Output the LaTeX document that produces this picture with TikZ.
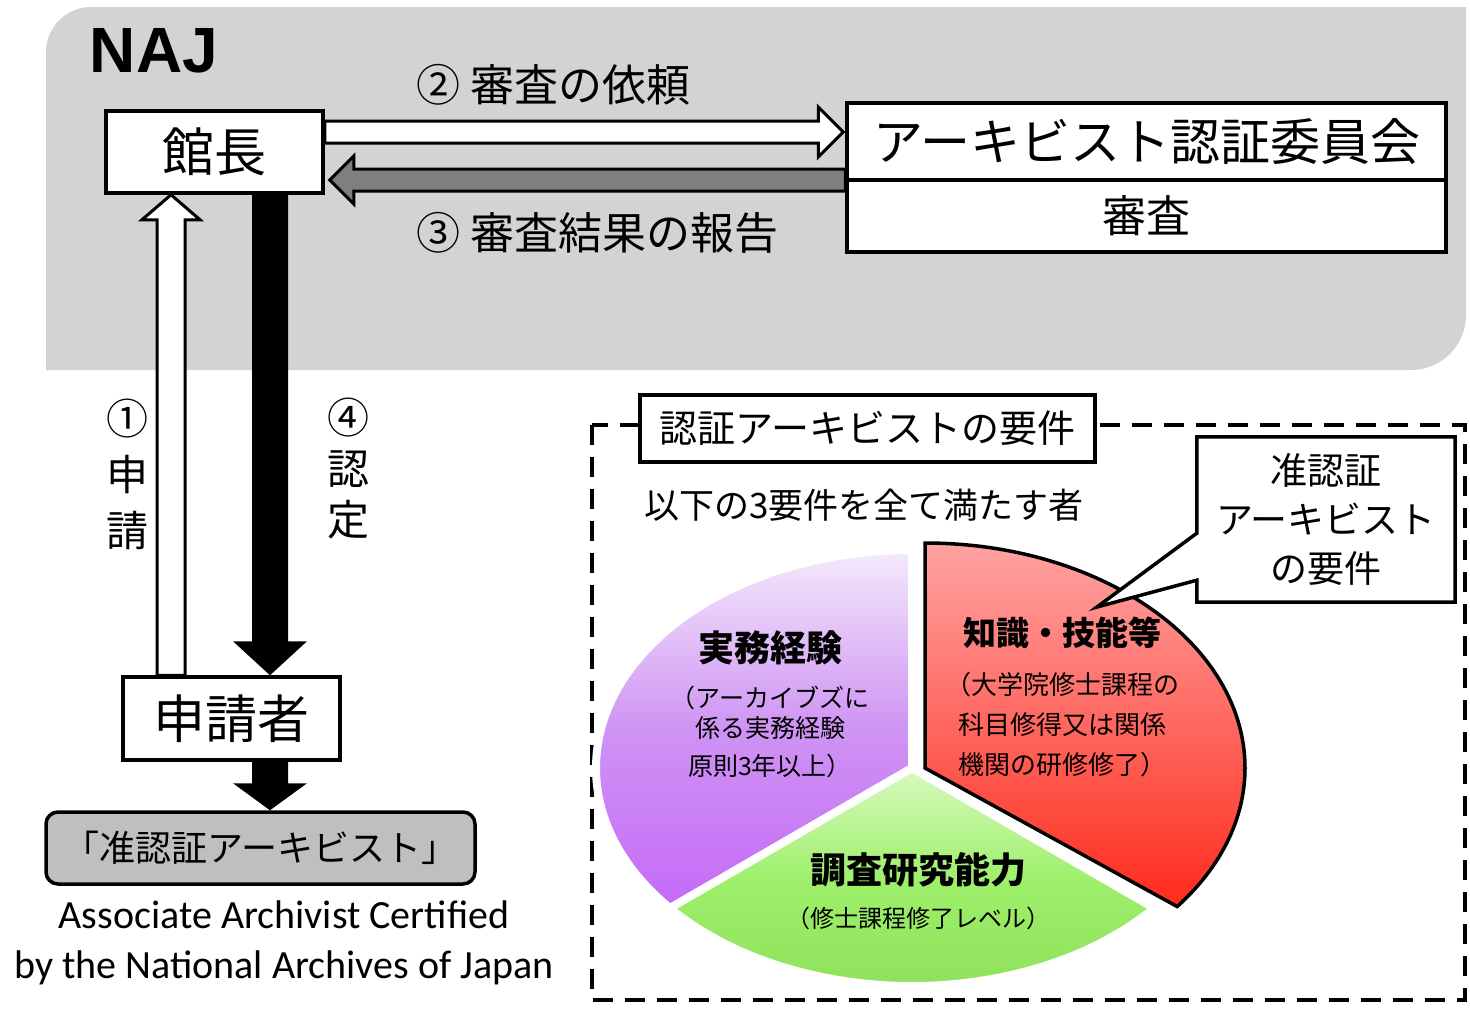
\documentclass[tikz,border=0pt]{standalone}
\usepackage{fontspec}
\setmainfont{Noto Sans CJK JP}
\newfontfamily\enfont{Carlito}
\newfontfamily\najfont{Liberation Sans}
\usetikzlibrary{calc}
\pgfdeclarelayer{back}
\pgfdeclarelayer{mid}
\pgfsetlayers{back,mid,main}
\definecolor{bggray}{HTML}{D3D3D3}
\definecolor{jungray}{HTML}{BFBFBF}
\definecolor{arrowgray}{HTML}{7F7F7F}
\definecolor{purpleTop}{HTML}{F4EAFB}
\definecolor{purpleMid}{HTML}{CF93F4}
\definecolor{purpleBot}{HTML}{C46AF7}
\definecolor{greenTop}{HTML}{D9F9BF}
\definecolor{greenMid}{HTML}{9EEF6A}
\definecolor{greenBot}{HTML}{8EDF5A}
\definecolor{redTop}{HTML}{FFA3A3}
\definecolor{redBot}{HTML}{FF2B1C}
\newcommand{\fsz}[2]{\fontsize{#1pt}{#2pt}\selectfont}
\begin{document}
\begin{tikzpicture}[x=1pt,y=-1pt,
  box/.style={draw=black, line width=3.5pt, fill=white, inner sep=0pt},
  warrow/.style={draw=black, line width=3pt, fill=white, line join=miter},
  garrow/.style={draw=black, line width=3pt, fill=arrowgray, line join=miter},
  barrow/.style={fill=black},
  dashbox/.style={draw=black, line width=4pt, dash pattern=on 20pt off 12pt},
  sector/.style={draw=white, line width=8pt, line join=round}]
\useasboundingbox (0,0) rectangle (1470,1010);

% background region
\begin{pgfonlayer}{back}
\fill[bggray] (46,370) -- (46,52) .. controls (46,27.2) and (66.2,7) .. (91,7)
  -- (1466,7) -- (1466,315) .. controls (1466,345.4) and (1441.4,370) .. (1411,370) -- cycle;
\end{pgfonlayer}

\node[font=\najfont\bfseries\fsz{64}{70}, inner sep=0pt] (naj) at (154,51) {NAJ};

% boxes
\node[box, minimum width=217pt, minimum height=82pt, font=\fsz{52}{60}] (kancho) at (214.5,152) {館長};
\node[box, minimum width=599pt, minimum height=77pt, font=\fsz{50}{60}] (iinkai) at (1146.5,141.5) {アーキビスト認証委員会};
\node[box, minimum width=599pt, minimum height=72pt, font=\fsz{44}{52}] (shinsa) at (1146.5,216) {審査};
\node[box, minimum width=217pt, minimum height=83pt, font=\fsz{52}{60}] (shinseisha) at (231.5,718.5) {申請者};
\node[box, fill=jungray, rounded corners=12pt, minimum width=429pt, minimum height=72pt, font=\fsz{36}{44}] (jun) at (260.5,848) {「准認証アーキビスト」};

% labels
\node[anchor=west, font=\fsz{44}{52}] (lab2) at (413,85) {② 審査の依頼};
\node[anchor=west, font=\fsz{44}{52}] (lab3) at (413,233) {③ 審査結果の報告};
\node[font=\fsz{42}{56}, align=center] (lab1) at (127,474) {①\\申\\請};
\node[font=\fsz{42}{51}, align=center] (lab4) at (348,469) {④\\認\\定};
\node[font=\enfont\fsz{40}{50}, align=center] (eng) at (284,943) {Associate Archivist Certified\\by the National Archives of Japan};

% columns / rows for arrows
\coordinate (x1) at (171,0);
\coordinate (x4) at (270,0);
\coordinate (y2) at (0,132);
\coordinate (y3) at (0,180);

% requirement area
\node[box, line width=4pt, minimum width=455pt, minimum height=67pt, font=\fsz{38}{46}] (req) at (867.5,428.5) {認証アーキビストの要件};
\node[anchor=west, font=\fsz{35}{42}] (all3) at (641,505) {以下の3要件を全て満たす者};
\node[minimum width=258pt, minimum height=165pt, inner sep=0pt, font=\fsz{37}{49}, align=center] (callout) at (1326,519.5) {准認証\\アーキビスト\\の要件};
\coordinate (tip) at (1097,607);

\coordinate (pc) at (912,768);
\coordinate (rc) at (925,768);

\begin{pgfonlayer}{mid}
% arrow 2 (white, to the committee)
\draw[warrow] ($(y2-|kancho.east)+(0,-11)$) -- ($(y2-|iinkai.west)+(-27,-11)$) -- ++(0,-14)
  -- ($(y2-|iinkai.west)+(-2,0)$) -- ++(-25,25) -- ++(0,-14) -- ($(y2-|kancho.east)+(0,11)$) -- cycle;
% arrow 3 (gray, back to the director)
\draw[garrow] ($(y3-|iinkai.west)+(0,-11)$) -- ($(y3-|kancho.east)+(29,-11)$) -- ++(0,-13)
  -- ($(y3-|kancho.east)+(5,0)$) -- ++(24,24) -- ++(0,-13) -- ($(y3-|iinkai.west)+(0,11)$) -- cycle;
% arrow 1 (white, up)
\draw[warrow] ($(x1|-shinseisha.north)+(-14,0)$) -- ($(x1|-kancho.south)+(-14,25)$) -- ++(-15,0)
  -- (x1|-kancho.south) -- ++(29,25) -- ++(-15,0) -- ($(x1|-shinseisha.north)+(14,0)$) -- cycle;
% arrow 4 (black, down)
\fill[barrow] ($(x4|-kancho.south)+(-18,0)$) -- ($(x4|-shinseisha.north)+(-18,-34)$) -- ++(-19,0)
  -- (x4|-shinseisha.north) -- ++(37,-34) -- ++(-19,0) -- ($(x4|-kancho.south)+(18,0)$) -- cycle;
% arrow 5 (black, down)
\fill[barrow] ($(x4|-shinseisha.south)+(-18,0)$) -- ($(x4|-jun.north)+(-18,-27)$) -- ++(-19,0)
  -- (x4|-jun.north) -- ++(37,-27) -- ++(-19,0) -- ($(x4|-shinseisha.south)+(18,0)$) -- cycle;

% dashed frame
\draw[dashbox] (592,425) rectangle (1465,1000);

% pie
\shadedraw[sector, top color=purpleTop, bottom color=purpleBot, middle color=purpleMid] (pc) -- ($(pc)+(0,-218)$)
  arc[start angle=-90, end angle=-220, x radius=316, y radius=218] -- cycle;
\shadedraw[sector, top color=greenTop, bottom color=greenBot, middle color=greenMid] (pc) -- ($(pc)+(-220:316 and 218)$)
  arc[start angle=-220, end angle=-320, x radius=316, y radius=218] -- cycle;
\shadedraw[top color=redTop, bottom color=redBot, draw=black, line width=3.5pt, line join=miter]
  (rc) -- ($(rc)+(0,-225)$) arc[start angle=-90, end angle=38, x radius=320, y radius=225] -- cycle;

% callout outline
\draw[line width=3.5pt, fill=white, line join=miter] (callout.north west) -- (callout.north east)
  -- (callout.south east) -- (callout.south west) -- ($(callout.south west)+(0,-22)$) -- (tip)
  -- ($(callout.south west)+(0,-69)$) -- cycle;
\end{pgfonlayer}

% pie texts
\node[font=\bfseries\fsz{36}{44}] (t1) at (770,648) {実務経験};
\node[font=\fsz{25}{38}, align=center] (t1s) at (770,732) {（アーカイブズに\\[-8pt]係る実務経験\\原則3年以上）};
\node[font=\bfseries\fsz{33}{40}] (t2) at (1062,633) {知識・技能等};
\node[font=\fsz{26}{40}, align=center] (t2s) at (1062,724.5) {（大学院修士課程の\\科目修得又は関係\\機関の研修修了）};
\node[font=\bfseries\fsz{36}{44}] (t3) at (918,870) {調査研究能力};
\node[font=\fsz{24}{30}] (t3s) at (918,918) {（修士課程修了レベル）};
\end{tikzpicture}
\end{document}
